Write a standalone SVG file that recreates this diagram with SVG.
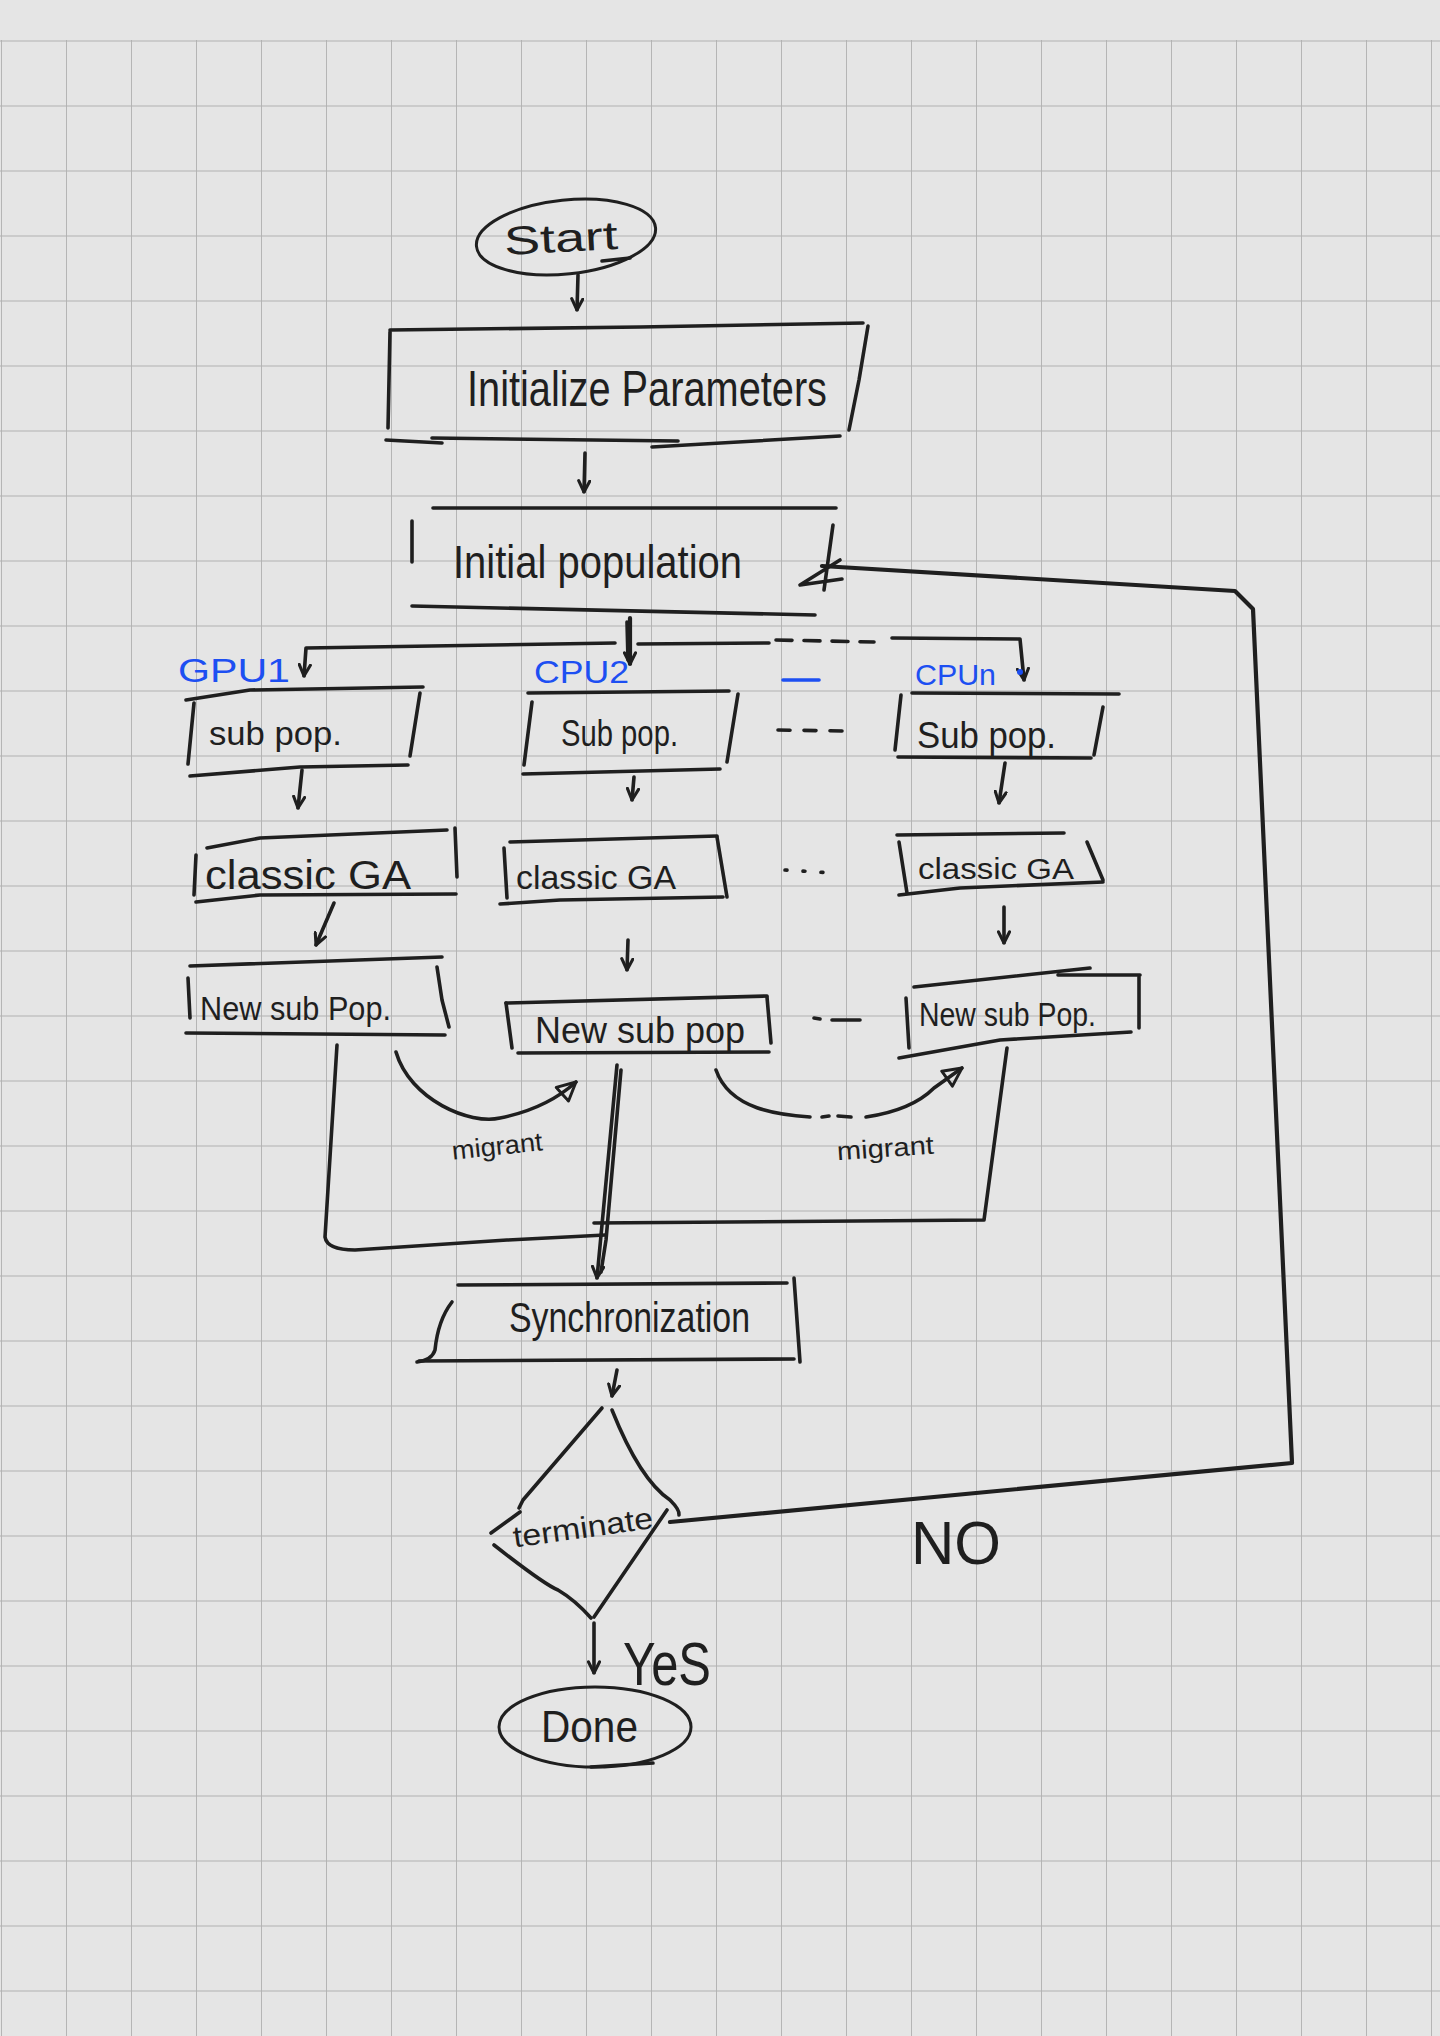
<svg xmlns="http://www.w3.org/2000/svg" width="1440" height="2036" viewBox="0 0 1440 2036">
<defs>
<pattern id="grid" x="1" y="40.5" width="65" height="65" patternUnits="userSpaceOnUse">
<path d="M0,0 H65 M0,0 V65" fill="none" stroke="#b0b0b0" stroke-width="1.8"/>
</pattern>
<marker id="arr" viewBox="0 0 10 10" refX="9" refY="5" markerWidth="14" markerHeight="14" markerUnits="userSpaceOnUse" orient="auto">
<path d="M1,1 L9,5 L1,9" fill="none" stroke="#1f1f1f" stroke-width="2.2" stroke-linecap="round" stroke-linejoin="round"/>
</marker>
<marker id="tri" viewBox="0 0 12 12" refX="11" refY="6" markerWidth="22" markerHeight="22" markerUnits="userSpaceOnUse" orient="auto">
<path d="M1,1 L11,6 L1,11 Z" fill="none" stroke="#1f1f1f" stroke-width="1.6" stroke-linejoin="round"/>
</marker>
</defs>
<style>
.ln{fill:none;stroke:#1f1f1f;stroke-width:3.6;stroke-linecap:round;stroke-linejoin:round}
.thk{fill:none;stroke:#1f1f1f;stroke-width:4.2;stroke-linecap:round;stroke-linejoin:round}
.bl{fill:none;stroke:#1d4ff2;stroke-width:3.6;stroke-linecap:round}
.t{font-family:"Liberation Sans",Arial,sans-serif;fill:#1f1f1f}
.tb{font-family:"Liberation Sans",Arial,sans-serif;fill:#1d4ff2}
</style>
<rect x="0" y="0" width="1440" height="2036" fill="#e5e5e5"/>
<rect x="0" y="40" width="1440" height="1996" fill="url(#grid)"/>

<g id="connectors">
<path class="ln" d="M578,275 L577,310" marker-end="url(#arr)"/>
<path class="ln" d="M585,453 L584,492" marker-end="url(#arr)"/>
<path class="thk" d="M630,618 L630,664" marker-end="url(#arr)"/>
<path class="ln" d="M627,622 L628,660"/>
<path class="ln" d="M615,643 L306,648 L304,676" marker-end="url(#arr)"/>
<path class="ln" d="M638,644 L769,643"/>
<path class="ln" d="M776,640 L874,642" stroke-dasharray="16 12"/>
<path class="ln" d="M892,638 L1020,639 L1024,680" marker-end="url(#arr)"/>
<path class="bl" d="M783,680 L819,680"/>
<circle cx="1020" cy="672" r="3" fill="#1d4ff2"/>
<path class="ln" d="M778,730 L844,731" stroke-dasharray="12 14"/>
<path class="ln" d="M302,770 L298,808" marker-end="url(#arr)"/>
<path class="ln" d="M634,777 L632,800" marker-end="url(#arr)"/>
<path class="ln" d="M1005,763 L999,803" marker-end="url(#arr)"/>
<path class="ln" d="M785,870 L833,873" stroke-dasharray="2 16"/>
<path class="ln" d="M334,903 L316,945" marker-end="url(#arr)"/>
<path class="ln" d="M628,940 L627,970" marker-end="url(#arr)"/>
<path class="ln" d="M1004,907 L1004,943" marker-end="url(#arr)"/>
<path class="ln" d="M814,1018 L820,1019 M832,1020 L860,1020"/>
<path class="ln" d="M337,1045 L325,1237 Q327,1250 355,1250 L507,1240 L605,1235"/>
<path class="ln" d="M396,1052 C410,1100 470,1125 500,1118 C530,1112 556,1100 576,1082" marker-end="url(#tri)"/>
<path class="ln" d="M617,1065 L597,1278" marker-end="url(#arr)"/>
<path class="ln" d="M621,1070 L606,1240 L601,1272"/>
<path class="ln" d="M1007,1048 L984,1220 L594,1223"/>
<path class="ln" d="M716,1070 C730,1110 780,1115 810,1117"/>
<path class="ln" d="M822,1117 L829,1116 M838,1116 L851,1117"/>
<path class="ln" d="M866,1117 C900,1112 922,1100 934,1088 L962,1068" marker-end="url(#tri)"/>
<path class="ln" d="M617,1370 L612,1396" marker-end="url(#arr)"/>
<path class="ln" d="M594,1623 L594,1673" marker-end="url(#arr)"/>
<path class="thk" d="M670,1522 L1292,1463 L1253,609 L1235,591 L822,566"/>
<path class="ln" d="M840,560 L800,585 L842,579 M833,525 L824,590"/>
</g>

<g id="start">
<ellipse cx="566" cy="237" rx="90" ry="37" transform="rotate(-6 566 237)" fill="none" stroke="#1f1f1f" stroke-width="3"/>
<text class="t" x="504" y="252" font-size="40" textLength="114" lengthAdjust="spacingAndGlyphs" transform="rotate(-3 560 240)">Start</text>
<path class="ln" d="M602,261 L630,258"/>
</g>

<g id="init-params">
<path class="ln" d="M390,330 L640,327 L863,323"/>
<path class="ln" d="M390,332 L388,428"/>
<path class="ln" d="M868,326 L859,380 L849,430"/>
<path class="ln" d="M386,440 L442,443 M432,438 L678,441 M652,447 L840,436"/>
<text class="t" x="467" y="406" font-size="50" textLength="360" lengthAdjust="spacingAndGlyphs">Initialize Parameters</text>
</g>

<g id="init-pop">
<path class="ln" d="M433,508 L836,508"/>
<path class="ln" d="M412,521 L412,562"/>
<path class="ln" d="M412,606 L815,615"/>
<text class="t" x="453" y="578" font-size="46" textLength="289" lengthAdjust="spacingAndGlyphs">Initial population</text>
</g>

<g id="label-gpu1"><text class="tb" x="178" y="682" font-size="34" textLength="112" lengthAdjust="spacingAndGlyphs">GPU1</text></g>
<g id="label-cpu2"><text class="tb" x="534" y="683" font-size="32" textLength="95" lengthAdjust="spacingAndGlyphs">CPU2</text></g>
<g id="label-cpun"><text class="tb" x="915" y="685" font-size="30" textLength="81" lengthAdjust="spacingAndGlyphs">CPUn</text></g>

<g id="subpop1">
<path class="ln" d="M186,700 L250,690 L423,687"/>
<path class="ln" d="M194,703 L188,764"/>
<path class="ln" d="M420,693 L410,756"/>
<path class="ln" d="M190,776 L300,767 L408,765"/>
<text class="t" x="209" y="745" font-size="34" textLength="133" lengthAdjust="spacingAndGlyphs">sub pop.</text>
</g>

<g id="subpop2">
<path class="ln" d="M528,693 L729,691"/>
<path class="ln" d="M532,702 L524,765"/>
<path class="ln" d="M738,694 L727,762"/>
<path class="ln" d="M523,774 L720,769"/>
<text class="t" x="561" y="746" font-size="36" textLength="117" lengthAdjust="spacingAndGlyphs">Sub pop.</text>
</g>

<g id="subpopn">
<path class="ln" d="M912,693 L1119,694"/>
<path class="ln" d="M901,695 L895,750"/>
<path class="ln" d="M1103,707 L1094,755"/>
<path class="ln" d="M898,757 L1091,758"/>
<text class="t" x="917" y="748" font-size="36" textLength="139" lengthAdjust="spacingAndGlyphs">Sub pop.</text>
</g>

<g id="classic1">
<path class="ln" d="M207,848 L260,838 L447,830"/>
<path class="ln" d="M455,828 L457,877"/>
<path class="ln" d="M196,855 L194,895"/>
<path class="ln" d="M196,902 L260,895 L456,894"/>
<text class="t" x="205" y="889" font-size="40" textLength="206" lengthAdjust="spacingAndGlyphs">classic GA</text>
</g>

<g id="classic2">
<path class="ln" d="M510,842 L717,836"/>
<path class="ln" d="M717,837 L727,897"/>
<path class="ln" d="M504,848 L507,898"/>
<path class="ln" d="M500,904 L560,900 L723,897"/>
<text class="t" x="516" y="889" font-size="34" textLength="160" lengthAdjust="spacingAndGlyphs">classic GA</text>
</g>

<g id="classicn">
<path class="ln" d="M897,835 L1064,833"/>
<path class="ln" d="M899,842 L907,893"/>
<path class="ln" d="M1087,842 L1103,880"/>
<path class="ln" d="M899,895 L960,888 L1103,882"/>
<text class="t" x="918" y="879" font-size="30" textLength="156" lengthAdjust="spacingAndGlyphs">classic GA</text>
</g>

<g id="newsub1">
<path class="ln" d="M190,966 L442,957"/>
<path class="ln" d="M188,978 L190,1018"/>
<path class="ln" d="M437,967 L442,1000 L449,1027"/>
<path class="ln" d="M186,1033 L445,1035"/>
<text class="t" x="200" y="1020" font-size="34" textLength="191" lengthAdjust="spacingAndGlyphs">New sub Pop.</text>
</g>

<g id="newsub2">
<path class="ln" d="M506,1003 L767,996"/>
<path class="ln" d="M506,1003 L512,1048"/>
<path class="ln" d="M767,997 L771,1043"/>
<path class="ln" d="M518,1053 L769,1052"/>
<text class="t" x="535" y="1043" font-size="36" textLength="210" lengthAdjust="spacingAndGlyphs">New sub pop</text>
</g>

<g id="newsubn">
<path class="ln" d="M914,987 L1090,968 M1058,975 L1140,975"/>
<path class="ln" d="M1139,977 L1139,1028"/>
<path class="ln" d="M906,998 L909,1048"/>
<path class="ln" d="M899,1058 L1000,1040 L1131,1032"/>
<text class="t" x="919" y="1026" font-size="34" textLength="177" lengthAdjust="spacingAndGlyphs">New sub Pop.</text>
</g>

<g id="label-migrant1"><text class="t" x="452" y="1155" font-size="26" textLength="91" lengthAdjust="spacingAndGlyphs" transform="rotate(-6 497 1150)">migrant</text></g>
<g id="label-migrant2"><text class="t" x="837" y="1157" font-size="26" textLength="97" lengthAdjust="spacingAndGlyphs" transform="rotate(-4 885 1150)">migrant</text></g>

<g id="sync">
<path class="ln" d="M458,1285 L787,1283"/>
<path class="ln" d="M794,1278 L800,1362"/>
<path class="ln" d="M452,1302 Q438,1320 435,1350 Q432,1360 417,1362"/>
<path class="ln" d="M419,1361 L794,1359"/>
<text class="t" x="509" y="1332" font-size="42" textLength="241" lengthAdjust="spacingAndGlyphs">Synchronization</text>
</g>

<g id="terminate">
<path class="ln" d="M602,1408 L523,1500 L519,1508"/>
<path class="ln" d="M612,1410 Q640,1480 670,1500 Q680,1510 679,1515"/>
<path class="ln" d="M520,1512 L491,1533"/>
<path class="ln" d="M494,1545 Q545,1585 558,1590 Q575,1600 591,1618"/>
<path class="ln" d="M667,1510 L594,1617"/>
<text class="t" x="512" y="1538" font-size="30" textLength="141" lengthAdjust="spacingAndGlyphs" transform="rotate(-8 582 1525)">terminate</text>
</g>

<g id="label-no"><text class="t" x="911" y="1564" font-size="62" textLength="90" lengthAdjust="spacingAndGlyphs">NO</text></g>
<g id="label-yes"><text class="t" x="623" y="1685" font-size="62" textLength="88" lengthAdjust="spacingAndGlyphs">YeS</text></g>

<g id="done">
<ellipse cx="595" cy="1727" rx="96" ry="40" fill="none" stroke="#1f1f1f" stroke-width="3"/>
<text class="t" x="541" y="1742" font-size="44" textLength="97" lengthAdjust="spacingAndGlyphs">Done</text>
<path class="ln" d="M591,1767 L653,1763"/>
</g>
</svg>
